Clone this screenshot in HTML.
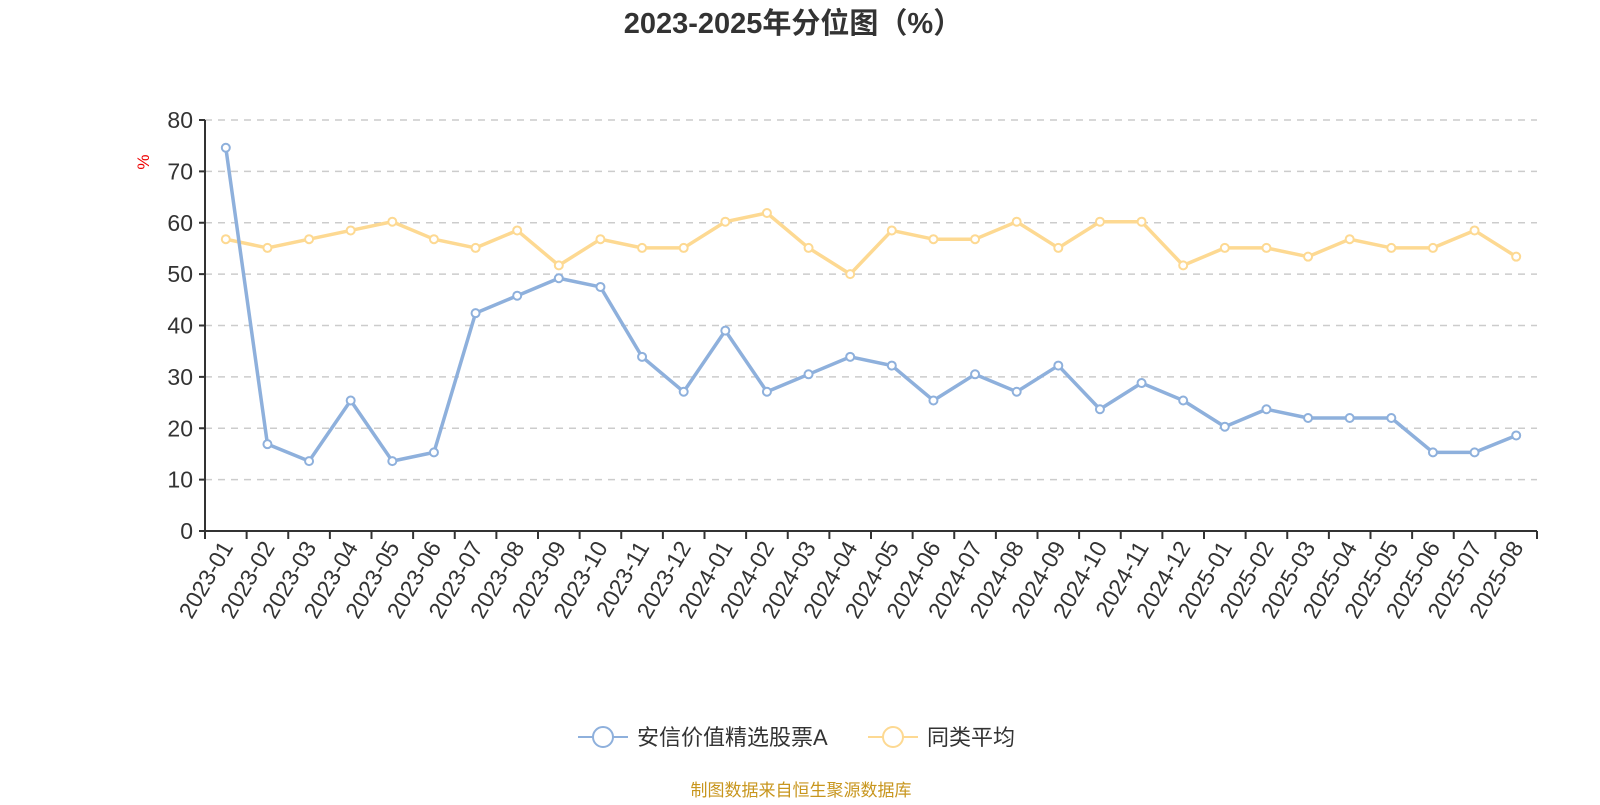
<!DOCTYPE html>
<html><head><meta charset="utf-8"><style>
body{margin:0;background:#fff;width:1600px;height:800px;overflow:hidden;font-family:"Liberation Sans","Noto Sans CJK SC",sans-serif}
</style></head><body>
<svg id="c" width="1600" height="800" xmlns="http://www.w3.org/2000/svg">
<text x="793" y="33" text-anchor="middle" font-size="29" font-weight="bold" fill="#333" font-family="Liberation Sans, Noto Sans CJK SC, sans-serif">2023-2025年分位图（%）</text>
<text x="0" y="0" transform="translate(149,162) rotate(-90)" text-anchor="middle" font-size="17" fill="#e00">%</text>
<g id="grid"></g><g id="axes"></g><g id="series"></g>
<g>
<g>
<line x1="578" y1="737" x2="628" y2="737" stroke="#8eb0dc" stroke-width="2"/>
<circle cx="603" cy="737" r="10" fill="#fff" stroke="#8eb0dc" stroke-width="2"/>
<text x="637" y="745" font-size="22" fill="#333">安信价值精选股票A</text></g>
<g>
<line x1="868" y1="737" x2="918" y2="737" stroke="#fdd992" stroke-width="2"/>
<circle cx="893" cy="737" r="10" fill="#fff" stroke="#fdd992" stroke-width="2"/>
<text x="927" y="745" font-size="22" fill="#333">同类平均</text></g>
</g>
<text x="801" y="796" text-anchor="middle" font-size="17" fill="#c8961e">制图数据来自恒生聚源数据库</text>
</svg>
<script>
const categories=["2023-01","2023-02","2023-03","2023-04","2023-05","2023-06","2023-07","2023-08","2023-09","2023-10","2023-11","2023-12","2024-01","2024-02","2024-03","2024-04","2024-05","2024-06","2024-07","2024-08","2024-09","2024-10","2024-11","2024-12","2025-01","2025-02","2025-03","2025-04","2025-05","2025-06","2025-07","2025-08"];
const fundValues=[74.6,16.9,13.6,25.4,13.6,15.3,42.4,45.8,49.2,47.5,33.9,27.1,39.0,27.1,30.5,33.9,32.2,25.4,30.5,27.1,32.2,23.7,28.8,25.4,20.3,23.7,22.0,22.0,22.0,15.3,15.3,18.6];
const avgValues=[56.8,55.1,56.8,58.5,60.2,56.8,55.1,58.5,51.7,56.8,55.1,55.1,60.2,61.9,55.1,50.0,58.5,56.8,56.8,60.2,55.1,60.2,60.2,51.7,55.1,55.1,53.4,56.8,55.1,55.1,58.5,53.4];
const yTicks=[0,10,20,30,40,50,60,70,80];
const NS="http://www.w3.org/2000/svg";
const L=205,R=1537,T=120,B=531,yMax=80;
const bw=(R-L)/categories.length;
const xs=i=>L+bw*(i+0.5);
const ys=v=>B-(v/yMax)*(B-T);
function mk(tag,attrs,parent){const e=document.createElementNS(NS,tag);for(const k in attrs)e.setAttribute(k,attrs[k]);parent.appendChild(e);return e;}
const grid=document.getElementById('grid'),axes=document.getElementById('axes'),series=document.getElementById('series');
yTicks.forEach(v=>{
 if(v>0){const g=mk('line',{x1:L,x2:R,y1:ys(v),y2:ys(v),stroke:'#ccc','stroke-width':1.5,'stroke-dasharray':'7,6'},grid);
 
 }
 const tk=mk('line',{x1:L-6,x2:L,y1:ys(v),y2:ys(v),stroke:'#333','stroke-width':2},axes);
 
 
 const t=mk('text',{x:L-12,y:ys(v)+8,'text-anchor':'end','font-size':23,fill:'#333'},axes);
 t.textContent=v;
 
 
});
const ya=mk('line',{x1:L,x2:L,y1:T,y2:B,stroke:'#333','stroke-width':2},axes);


const xa=mk('line',{x1:L,x2:R,y1:B,y2:B,stroke:'#333','stroke-width':2},axes);


for(let i=0;i<=categories.length;i++){
 const tk=mk('line',{x1:L+bw*i,x2:L+bw*i,y1:B,y2:B+8,stroke:'#333','stroke-width':2},axes);
 
 
}
categories.forEach((c,i)=>{
 const t=mk('text',{transform:`translate(${xs(i)+8},${B+16}) rotate(-60)`,'text-anchor':'end','font-size':23,fill:'#333'},axes);
 t.textContent=c;
 
 
});
function drawSeries(vals,color,name){
 const p=mk('polyline',{points:vals.map((v,i)=>xs(i)+','+ys(v)).join(' '),fill:'none',stroke:color,'stroke-width':3.5,'stroke-linejoin':'round'},series);
 
 
 vals.forEach((v,i)=>{
  const c=mk('circle',{cx:xs(i),cy:ys(v),r:4,fill:'#fff',stroke:color,'stroke-width':2},series);
  
  
 });
}
drawSeries(avgValues,'#fdd992','average');
drawSeries(fundValues,'#8eb0dc','fund');
</script>
</body></html>
